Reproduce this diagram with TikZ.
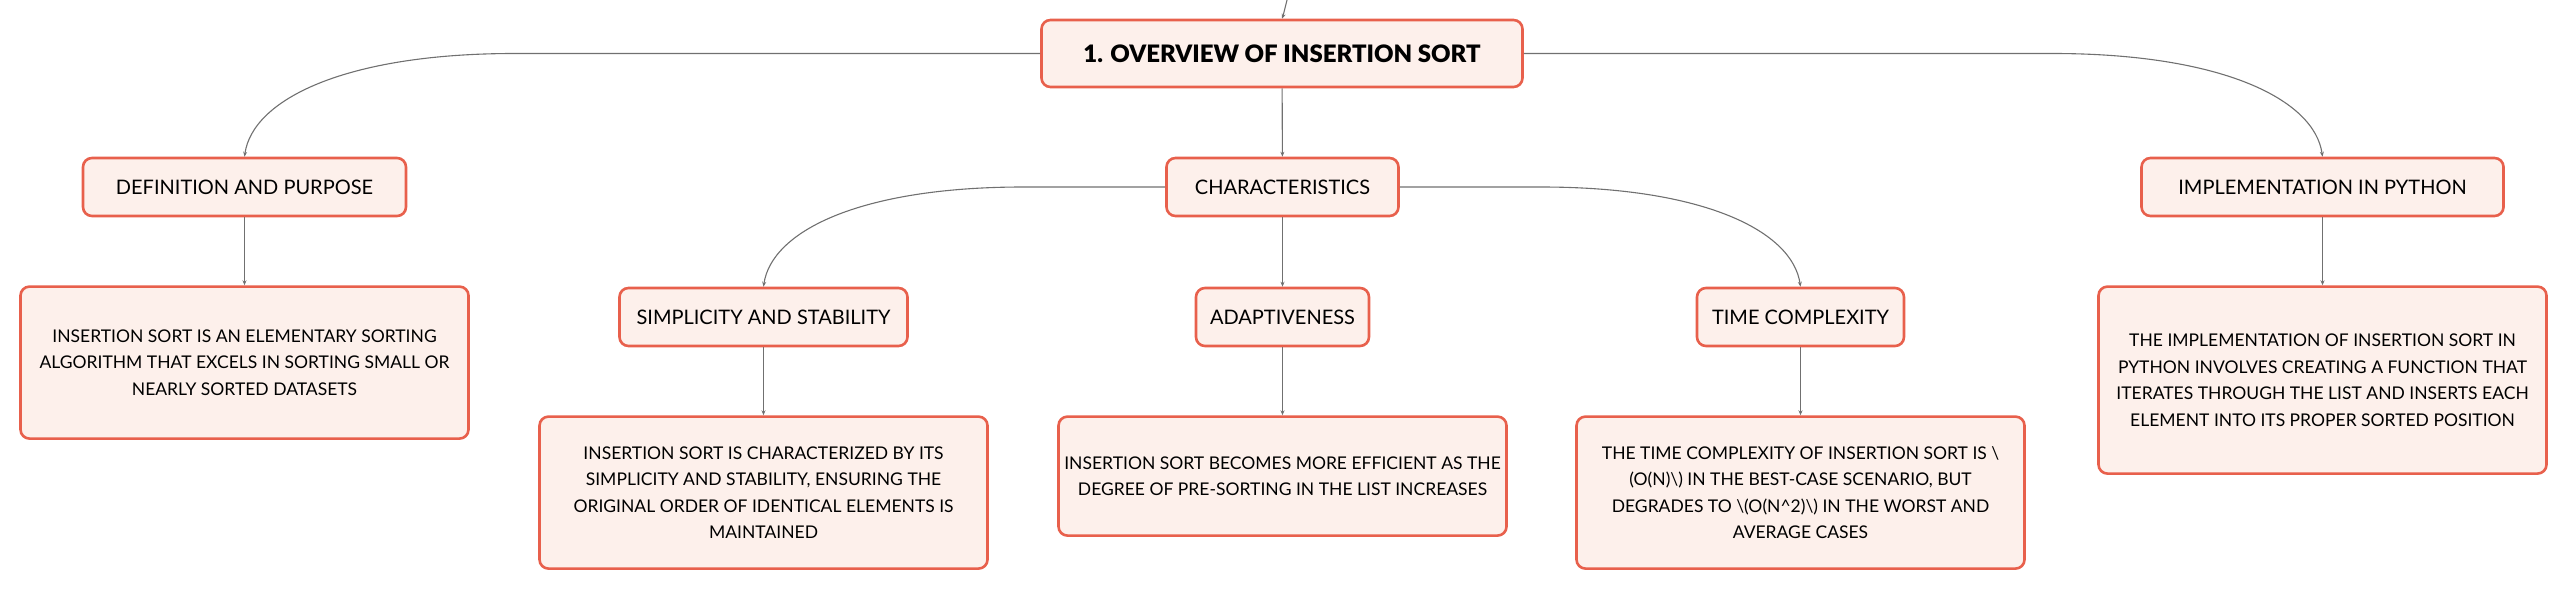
\documentclass[tikz,border=0pt]{standalone}
\usepackage{fontspec}
\setmainfont{Lato}
\newfontface\heavyface{Lato Black}
\usetikzlibrary{positioning,calc,arrows.meta}
\definecolor{boxline}{HTML}{E8604C}
\definecolor{boxfill}{HTML}{FDF0EB}
\definecolor{linkgray}{HTML}{707070}

\begin{document}
\begin{tikzpicture}[x=1pt,y=-1pt,
    topic/.style={draw=boxline, fill=boxfill, line width=2.6pt, rounded corners=9pt,
        minimum height=58pt, inner sep=0pt, font=\fontsize{20}{24}\selectfont},
    note/.style={topic, minimum width=448pt, align=center, font=\fontsize{17.5}{26.6}\selectfont},
    link/.style={draw=linkgray, line width=1.1pt, -{Stealth[length=5pt,width=4pt]}}]
    \useasboundingbox (0,0) rectangle (2565,591);

    % main topic and branches
    \node[topic, minimum width=481pt, minimum height=67pt, font=\fontsize{24}{28}\heavyface] (root) at (1282,53.5) {1. OVERVIEW OF INSERTION SORT};
    \node[topic, minimum width=323pt] (def) at (244.5,187) {DEFINITION AND PURPOSE};
    \node[topic, minimum width=232pt] (char) at (1282.5,187) {CHARACTERISTICS};
    \node[topic, minimum width=362pt] (impl) at (2322.5,187) {IMPLEMENTATION IN PYTHON};
    \node[topic, minimum width=288pt] (simp) at (763.5,317) {SIMPLICITY AND STABILITY};
    \node[topic, minimum width=173pt] (adapt) at (1282.5,317) {ADAPTIVENESS};
    \node[topic, minimum width=207pt] (time) at (1800.5,317) {TIME COMPLEXITY};

    % descriptions
    \node[note, minimum height=152pt, below=68pt of def] (defnote) {INSERTION SORT IS AN ELEMENTARY SORTING\\ALGORITHM THAT EXCELS IN SORTING SMALL OR\\NEARLY SORTED DATASETS};
    \node[note, minimum height=152pt, below=68pt of simp] (simpnote) {INSERTION SORT IS CHARACTERIZED BY ITS\\SIMPLICITY AND STABILITY, ENSURING THE\\ORIGINAL ORDER OF IDENTICAL ELEMENTS IS\\MAINTAINED};
    \node[note, minimum height=119pt, below=68pt of adapt] (adaptnote) {INSERTION SORT BECOMES MORE EFFICIENT AS THE\\DEGREE OF PRE-SORTING IN THE LIST INCREASES};
    \node[note, minimum height=152pt, below=68pt of time] (timenote) {THE TIME COMPLEXITY OF INSERTION SORT IS \textbackslash\\(O(N)\textbackslash) IN THE BEST-CASE SCENARIO, BUT\\DEGRADES TO \textbackslash(O(N\textasciicircum2)\textbackslash) IN THE WORST AND\\AVERAGE CASES};
    \node[note, minimum height=187pt, below=68pt of impl] (implnote) {THE IMPLEMENTATION OF INSERTION SORT IN\\PYTHON INVOLVES CREATING A FUNCTION THAT\\ITERATES THROUGH THE LIST AND INSERTS EACH\\ELEMENT INTO ITS PROPER SORTED POSITION};

    % links
    \coordinate (above) at (1287,0);
    \draw[link] (above) .. controls (1286,8) .. (root.north);
    \foreach \from/\to in {root/char, def/defnote, char/adapt, impl/implnote, simp/simpnote, adapt/adaptnote, time/timenote}
        \draw[link] (\from) -- (\to);
    \draw[link] (root.west) -- ($(def.north |- root.west)+(270,0)$) .. controls +(-170,0) and +(8,-57) .. (def.north);
    \draw[link] (root.east) -- ($(impl.north |- root.east)+(-270,0)$) .. controls +(170,0) and +(-8,-57) .. (impl.north);
    \draw[link] (char.west) -- ($(simp.north |- char.west)+(260,0)$) .. controls +(-165,0) and +(8,-55) .. (simp.north);
    \draw[link] (char.east) -- ($(time.north |- char.east)+(-260,0)$) .. controls +(165,0) and +(-8,-55) .. (time.north);
\end{tikzpicture}
\end{document}
